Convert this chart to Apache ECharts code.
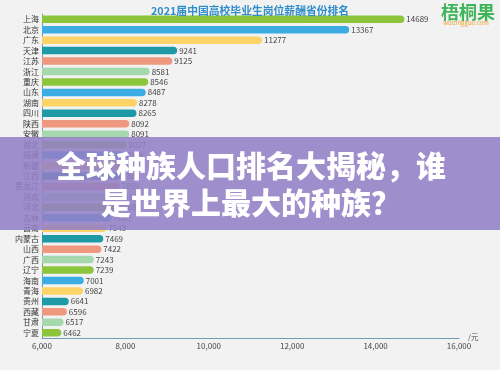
<!DOCTYPE html>
<html><head><meta charset="utf-8">
<script src="https://cdn.jsdelivr.net/npm/echarts@6/dist/echarts.min.js"></script>
<style>html,body{margin:0;padding:0;background:#f2f2f2}#c{width:500px;height:370px}</style>
</head><body><div id="c"></div>
<script>
const provinces = ['上海','北京','广东','天津','江苏','浙江','重庆','山东','湖南','四川','陕西','安徽','湖北','福建','新疆','江西','黑龙江','河南','河北','吉林','云南','内蒙古','山西','广西','辽宁','海南','青海','贵州','西藏','甘肃','宁夏'];
const salaries = [14689,13367,11277,9241,9125,8581,8546,8487,8278,8265,8092,8091,8027,7949,7918,7881,7859,7812,7788,7663,7543,7469,7422,7243,7239,7001,6982,6641,6596,6517,6462];
const palette = ['#8cc43c','#3bade2','#fcd366','#1e9aa6','#ee9880','#a6d8ae'];
const titleText = '2021届中国高校毕业生岗位薪酬省份排名';
const overlayText = '全球种族人口排名大揭秘，谁\n是世界上最大的种族？';

const chart = echarts.init(document.getElementById('c'));
const font = '"Noto Sans CJK SC", "Noto Sans", sans-serif';
chart.setOption({
  backgroundColor: '#f2f2f2',
  animation: false,
  textStyle: { fontFamily: font },
  title: {
    text: titleText, left: 'center', top: 1,
    textStyle: { fontSize: 10.8, fontWeight: 'bold', color: '#2f8dcb', fontFamily: font }
  },
  grid: { left: 42, right: 41, top: 14, bottom: 32, containLabel: false },
  xAxis: {
    type: 'value', min: 6000, max: 16000, interval: 2000,
    axisLine: { show: true, lineStyle: { color: '#6f9db2', width: 1 } },
    axisTick: { show: false },
    splitLine: { show: false },
    axisLabel: { fontSize: 8, color: '#444', margin: 4, formatter: v => v.toLocaleString('en-US') },
    name: '/元', nameLocation: 'end', nameGap: 9,
    nameTextStyle: { fontSize: 7.5, color: '#555', verticalAlign: 'bottom', padding: [0,0,-3,0] }
  },
  yAxis: {
    type: 'category', data: provinces, inverse: true,
    axisLine: { show: true, lineStyle: { color: '#6f9db2', width: 1 } },
    axisTick: { show: false },
    axisLabel: { fontSize: 8, color: '#333', margin: 3 }
  },
  series: [{
    type: 'bar', data: salaries.map((v, i) => ({ value: v, itemStyle: { color: palette[i % 6] } })),
    barWidth: 7.5,
    itemStyle: { borderRadius: [0, 4, 4, 0] },
    label: { show: true, position: 'right', distance: 2, fontSize: 8, color: '#444' }
  }],
  graphic: [
    { type: 'rect', z: 100, shape: { x: 0, y: 137, width: 500, height: 93 },
      style: { fill: 'rgba(146,128,198,0.88)' } },
    { type: 'text', z: 101, x: 251, y: 147,
      style: { text: overlayText, fill: '#ffffff', fontSize: 30, fontWeight: 900, fontFamily: font,
        align: 'center', verticalAlign: 'top', lineHeight: 37 } },
    { type: 'text', z: 101, x: 468, y: 3,
      style: { text: '梧桐果', fill: '#3fb55a', fontSize: 18, fontWeight: 'bold', fontFamily: font, align: 'center', verticalAlign: 'top' } },
    { type: 'text', z: 101, x: 466, y: 20,
      style: { text: 'wutongguo.com', fill: '#f0a030', fontSize: 6, fontFamily: font, align: 'center', verticalAlign: 'top' } }
  ]
});
</script></body></html>
